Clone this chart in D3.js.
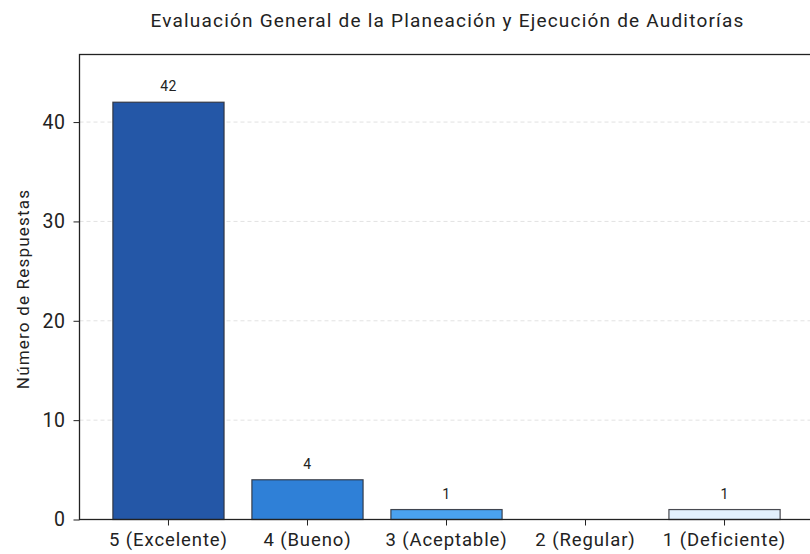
<!DOCTYPE html>
<html><head><meta charset="utf-8">
<script src="https://cdn.jsdelivr.net/npm/d3@7"></script>
<style>body{margin:0;background:#fff}svg{display:block}text{font-family:Roboto,"Open Sans",sans-serif;fill:#222}</style>
</head><body>
<script>
const categories = ["5 (Excelente)", "4 (Bueno)", "3 (Aceptable)", "2 (Regular)", "1 (Deficiente)"];
const values = [42, 4, 1, 0, 1];
const barColors = ["#2457a7", "#2f80d7", "#4aa2f0", "#90caf9", "#e2f0fc"];
const yTicks = [0, 10, 20, 30, 40];
const chartTitle = "Evaluación General de la Planeación y Ejecución de Auditorías";
const yLabel = "Número de Respuestas";

const W = 810, H = 554;
const mLeft = 79.5, mRight = 813.5, mTop = 54.5, mBottom = 519.5;
const svg = d3.select("body").append("svg").attr("width", W).attr("height", H);

const data = categories.map((c, i) => ({ c, v: values[i], col: barColors[i] }));

const x = d3.scaleBand().domain(categories).range([mLeft, mRight]).paddingInner(0.2).paddingOuter(0.24);
const y = d3.scaleLinear().domain([0, 46.8]).range([mBottom, mTop]);

// grid
svg.append("g").selectAll("line").data(yTicks.filter(d => d > 0)).join("line")
  .attr("x1", mLeft).attr("x2", mRight).attr("y1", d => y(d)).attr("y2", d => y(d))
  .attr("stroke", "#d9d9d9").attr("stroke-width", 0.8).attr("stroke-dasharray", "4,3");

// bars
svg.append("g").selectAll("rect").data(data).join("rect")
  .attr("x", d => x(d.c))
  .attr("width", x.bandwidth())
  .attr("y", d => y(d.v))
  .attr("height", d => y(0) - y(d.v))
  .attr("fill", d => d.col)
  .attr("stroke", "#2b2b33").attr("stroke-opacity", 0.85).attr("stroke-width", 1.2);

// value labels
svg.append("g").selectAll("text").data(data.filter(d => d.v > 0)).join("text")
  .attr("x", d => x(d.c) + x.bandwidth() / 2)
  .attr("y", d => y(d.v) - 11)
  .attr("text-anchor", "middle").attr("font-size", 14).style("letter-spacing", "0.4px")
  .text(d => d.v);

// axes
const yAxis = d3.axisLeft(y).tickValues(yTicks).tickSize(6).tickPadding(8);
const gy = svg.append("g").attr("transform", `translate(${mLeft},0)`).call(yAxis);
gy.select(".domain").remove();
gy.selectAll("text").attr("font-size", 19.5).attr("fill", "#222").style("font-family", "Roboto,sans-serif").style("letter-spacing", "0.5px");
gy.selectAll("line").attr("stroke", "#222");

const xAxis = d3.axisBottom(x).tickSize(6).tickPadding(7);
const gx = svg.append("g").attr("transform", `translate(0,${mBottom})`).call(xAxis);
gx.select(".domain").remove();
gx.selectAll("text").attr("font-size", 18.5).attr("fill", "#222").style("font-family", "Roboto,sans-serif").style("letter-spacing", "0.9px");
gx.selectAll("line").attr("stroke", "#222");

// frame spines
svg.append("rect").attr("x", mLeft).attr("y", mTop).attr("width", mRight - mLeft).attr("height", mBottom - mTop)
  .attr("fill", "none").attr("stroke", "#222").attr("stroke-width", 1.3);

// title
svg.append("text").attr("x", (mLeft + mRight) / 2 + 1).attr("y", 27).attr("text-anchor", "middle")
  .attr("font-size", 19).style("letter-spacing", "1.2px").text(chartTitle);

// y label
svg.append("text").attr("transform", `translate(29,${(mTop + mBottom) / 2 + 2}) rotate(-90)`)
  .attr("text-anchor", "middle").attr("font-size", 17).style("letter-spacing", "1.2px").text(yLabel);
</script>
</body></html>
